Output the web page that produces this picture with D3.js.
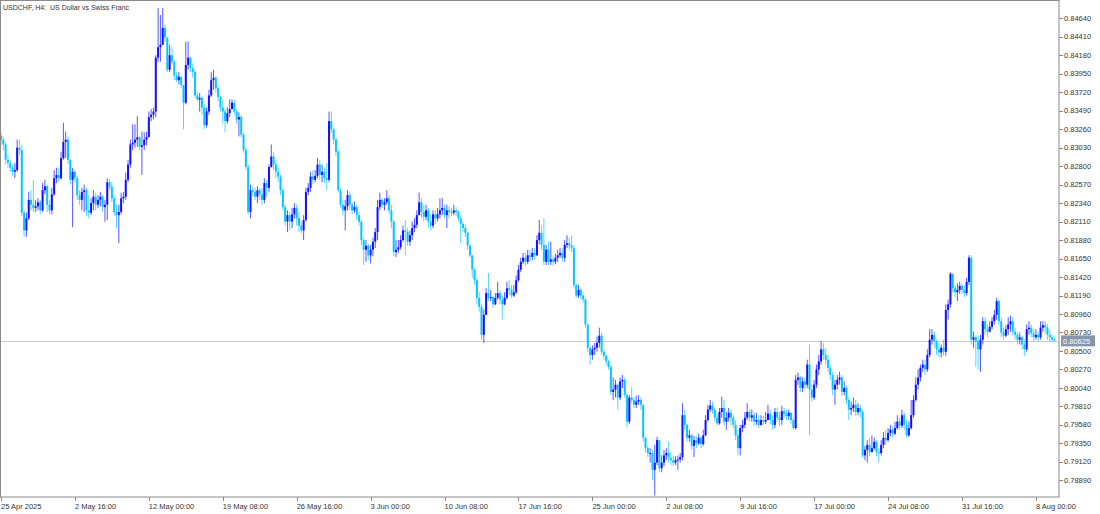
<!DOCTYPE html>
<html><head><meta charset="utf-8">
<script src="https://cdn.jsdelivr.net/npm/d3@7"></script>
<style>body{margin:0;background:#fff;} svg{display:block;font-family:"Liberation Sans",Arial,sans-serif;}</style>
</head><body><svg id="c" width="1100" height="514"></svg>
<script>
const title = "USDCHF, H4:  US Dollar vs Swiss Franc";
const firstOpen = 0.8318;
const closes = [
0.8313,0.8307,0.8288,0.8284,0.8278,0.8273,0.8275,0.8303,0.8300,0.8222,
0.8200,0.8215,0.8238,0.8232,0.8228,0.8230,0.8235,0.8225,0.8250,0.8255,
0.8232,0.8225,0.8245,0.8265,0.8269,0.8265,0.8290,0.8310,0.8313,0.8288,
0.8263,0.8273,0.8265,0.8244,0.8238,0.8248,0.8250,0.8225,0.8222,0.8234,
0.8242,0.8232,0.8238,0.8242,0.8229,0.8232,0.8260,0.8254,0.8240,0.8223,
0.8219,0.8223,0.8240,0.8242,0.8263,0.8282,0.8307,0.8309,0.8313,0.8316,
0.8304,0.8306,0.8313,0.8316,0.8341,0.8344,0.8348,0.8415,0.8428,0.8431,
0.8452,0.8440,0.8400,0.8418,0.8410,0.8393,0.8387,0.8391,0.8381,0.8359,
0.8406,0.8415,0.8402,0.8397,0.8368,0.8363,0.8365,0.8353,0.8331,0.8348,
0.8368,0.8387,0.8390,0.8377,0.8366,0.8353,0.8348,0.8336,0.8346,0.8351,
0.8359,0.8348,0.8338,0.8341,0.8319,0.8300,0.8279,0.8223,0.8250,0.8248,
0.8242,0.8250,0.8245,0.8238,0.8259,0.8253,0.8279,0.8292,0.8282,0.8273,
0.8267,0.8250,0.8229,0.8211,0.8219,0.8211,0.8220,0.8228,0.8215,0.8206,
0.8200,0.8213,0.8248,0.8253,0.8267,0.8263,0.8268,0.8282,0.8269,0.8273,
0.8265,0.8263,0.8336,0.8326,0.8313,0.8298,0.8250,0.8232,0.8225,0.8230,
0.8244,0.8232,0.8225,0.8229,0.8219,0.8211,0.8188,0.8176,0.8181,0.8169,
0.8176,0.8186,0.8198,0.8229,0.8238,0.8232,0.8235,0.8240,0.8225,0.8211,
0.8173,0.8176,0.8179,0.8188,0.8200,0.8198,0.8186,0.8194,0.8203,0.8207,
0.8219,0.8235,0.8223,0.8217,0.8225,0.8211,0.8206,0.8220,0.8215,0.8220,
0.8225,0.8228,0.8219,0.8225,0.8223,0.8222,0.8225,0.8223,0.8215,0.8208,
0.8203,0.8197,0.8181,0.8169,0.8151,0.8138,0.8116,0.8105,0.8070,0.8095,
0.8122,0.8116,0.8117,0.8108,0.8116,0.8122,0.8114,0.8108,0.8116,0.8128,
0.8126,0.8119,0.8123,0.8138,0.8151,0.8161,0.8166,0.8161,0.8169,0.8167,
0.8172,0.8169,0.8188,0.8197,0.8182,0.8161,0.8176,0.8161,0.8164,0.8161,
0.8166,0.8169,0.8172,0.8166,0.8182,0.8184,0.8181,0.8178,0.8132,0.8119,
0.8126,0.8119,0.8114,0.8083,0.8054,0.8045,0.8052,0.8054,0.8060,0.8069,
0.8049,0.8044,0.8037,0.8030,0.7999,0.8002,0.8008,0.7992,0.8012,0.8014,
0.7995,0.7962,0.7992,0.7989,0.7983,0.7987,0.7989,0.7983,0.7942,0.7929,
0.7923,0.7923,0.7902,0.7911,0.7939,0.7904,0.7911,0.7920,0.7923,0.7917,
0.7914,0.7911,0.7914,0.7915,0.7918,0.7970,0.7958,0.7942,0.7945,0.7932,
0.7939,0.7935,0.7942,0.7934,0.7945,0.7964,0.7977,0.7982,0.7977,0.7967,
0.7960,0.7974,0.7979,0.7962,0.7967,0.7973,0.7967,0.7958,0.7945,0.7929,
0.7954,0.7958,0.7967,0.7974,0.7967,0.7970,0.7962,0.7964,0.7958,0.7964,
0.7962,0.7964,0.7972,0.7964,0.7958,0.7974,0.7967,0.7964,0.7975,0.7972,
0.7969,0.7973,0.7964,0.7954,0.8014,0.8017,0.8004,0.8012,0.8008,0.8033,
0.8002,0.7992,0.8008,0.8027,0.8037,0.8052,0.8045,0.8039,0.8029,0.8020,
0.8002,0.8008,0.8014,0.8017,0.7999,0.8004,0.7989,0.7977,0.7979,0.7983,
0.7974,0.7979,0.7974,0.7920,0.7927,0.7933,0.7924,0.7929,0.7937,0.7924,
0.7923,0.7933,0.7942,0.7939,0.7948,0.7952,0.7947,0.7954,0.7962,0.7957,
0.7970,0.7958,0.7945,0.7954,0.7970,0.7989,0.8008,0.8017,0.8029,0.8033,
0.8027,0.8045,0.8064,0.8070,0.8062,0.8052,0.8048,0.8054,0.8049,0.8101,
0.8108,0.8146,0.8128,0.8123,0.8126,0.8131,0.8126,0.8122,0.8136,0.8166,
0.8064,0.8067,0.8062,0.8052,0.8064,0.8087,0.8077,0.8074,0.8080,0.8087,
0.8095,0.8112,0.8087,0.8073,0.8069,0.8077,0.8083,0.8087,0.8074,0.8070,
0.8064,0.8067,0.8058,0.8052,0.8077,0.8079,0.8072,0.8067,0.8070,0.8067,
0.8079,0.8082,0.8079,0.8070,0.8067,0.8064,0.80625];
const highs = [
0.8322,0.8317,0.8310,0.8294,0.8288,0.8282,0.8284,0.8313,0.8313,0.8307,
0.8225,0.8222,0.8248,0.8250,0.8263,0.8238,0.8240,0.8238,0.8259,0.8263,
0.8257,0.8238,0.8253,0.8275,0.8278,0.8278,0.8298,0.8334,0.8323,0.8317,
0.8288,0.8278,0.8275,0.8268,0.8250,0.8253,0.8257,0.8253,0.8244,0.8240,
0.8250,0.8247,0.8244,0.8248,0.8244,0.8238,0.8265,0.8264,0.8260,0.8244,
0.8232,0.8232,0.8247,0.8248,0.8272,0.8288,0.8313,0.8332,0.8332,0.8342,
0.8317,0.8323,0.8322,0.8323,0.8348,0.8351,0.8353,0.8418,0.8477,0.8468,
0.8477,0.8456,0.8437,0.8431,0.8428,0.8412,0.8397,0.8397,0.8392,0.8381,
0.8435,0.8435,0.8416,0.8408,0.8400,0.8372,0.8371,0.8367,0.8357,0.8353,
0.8375,0.8397,0.8400,0.8392,0.8380,0.8368,0.8363,0.8351,0.8353,0.8363,
0.8363,0.8363,0.8351,0.8347,0.8344,0.8322,0.8303,0.8282,0.8257,0.8255,
0.8253,0.8255,0.8253,0.8253,0.8265,0.8263,0.8282,0.8307,0.8298,0.8288,
0.8278,0.8269,0.8253,0.8232,0.8225,0.8223,0.8228,0.8234,0.8232,0.8223,
0.8211,0.8219,0.8253,0.8259,0.8273,0.8275,0.8275,0.8290,0.8288,0.8282,
0.8278,0.8284,0.8348,0.8348,0.8328,0.8316,0.8300,0.8253,0.8238,0.8238,
0.8250,0.8248,0.8234,0.8236,0.8232,0.8223,0.8213,0.8191,0.8188,0.8183,
0.8182,0.8191,0.8203,0.8238,0.8247,0.8240,0.8240,0.8250,0.8244,0.8232,
0.8213,0.8188,0.8188,0.8194,0.8206,0.8213,0.8203,0.8200,0.8211,0.8215,
0.8225,0.8247,0.8240,0.8232,0.8232,0.8228,0.8220,0.8225,0.8225,0.8228,
0.8240,0.8240,0.8232,0.8232,0.8230,0.8228,0.8232,0.8229,0.8225,0.8219,
0.8211,0.8207,0.8198,0.8182,0.8169,0.8153,0.8141,0.8123,0.8108,0.8102,
0.8128,0.8147,0.8126,0.8119,0.8122,0.8136,0.8126,0.8119,0.8123,0.8136,
0.8138,0.8132,0.8132,0.8144,0.8157,0.8166,0.8172,0.8172,0.8176,0.8176,
0.8178,0.8178,0.8194,0.8213,0.8206,0.8215,0.8182,0.8186,0.8186,0.8169,
0.8171,0.8176,0.8178,0.8178,0.8188,0.8194,0.8191,0.8194,0.8182,0.8134,
0.8132,0.8128,0.8123,0.8116,0.8083,0.8055,0.8057,0.8060,0.8068,0.8079,
0.8073,0.8052,0.8045,0.8039,0.8033,0.8017,0.8014,0.8010,0.8017,0.8020,
0.8017,0.7998,0.7995,0.8005,0.7992,0.7994,0.7995,0.7992,0.7983,0.7943,
0.7933,0.7929,0.7927,0.7933,0.7943,0.7939,0.7920,0.7927,0.7929,0.7937,
0.7924,0.7920,0.7919,0.7920,0.7923,0.7985,0.7977,0.7959,0.7952,0.7947,
0.7944,0.7944,0.7947,0.7944,0.7952,0.7970,0.7983,0.7989,0.7987,0.7979,
0.7972,0.7979,0.7993,0.7989,0.7974,0.7979,0.7977,0.7970,0.7964,0.7952,
0.7958,0.7964,0.7974,0.7985,0.7977,0.7977,0.7974,0.7973,0.7970,0.7970,
0.7969,0.7974,0.7983,0.7977,0.7970,0.7979,0.7979,0.7974,0.7982,0.7979,
0.7977,0.7977,0.7974,0.7967,0.8020,0.8023,0.8019,0.8017,0.8017,0.8039,
0.8058,0.8008,0.8014,0.8033,0.8045,0.8062,0.8060,0.8054,0.8045,0.8033,
0.8024,0.8014,0.8020,0.8024,0.8020,0.8012,0.8007,0.7993,0.7987,0.7992,
0.7989,0.7985,0.7983,0.7977,0.7932,0.7939,0.7942,0.7945,0.7942,0.7939,
0.7929,0.7939,0.7949,0.7952,0.7954,0.7958,0.7957,0.7962,0.7970,0.7967,
0.7977,0.7973,0.7964,0.7962,0.7989,0.7995,0.8017,0.8027,0.8033,0.8039,
0.8039,0.8052,0.8077,0.8077,0.8074,0.8064,0.8060,0.8058,0.8064,0.8108,
0.8114,0.8148,0.8144,0.8132,0.8134,0.8136,0.8134,0.8132,0.8141,0.8169,
0.8169,0.8074,0.8070,0.8069,0.8070,0.8092,0.8092,0.8083,0.8087,0.8092,
0.8101,0.8116,0.8114,0.8092,0.8079,0.8082,0.8092,0.8094,0.8092,0.8079,
0.8073,0.8073,0.8069,0.8064,0.8083,0.8087,0.8083,0.8077,0.8077,0.8074,
0.8087,0.8087,0.8087,0.8083,0.8077,0.8070,0.8067];
const lows = [
0.8306,0.8300,0.8282,0.8278,0.8273,0.8268,0.8265,0.8273,0.8294,0.8218,
0.8192,0.8192,0.8213,0.8225,0.8223,0.8223,0.8225,0.8220,0.8223,0.8245,
0.8223,0.8220,0.8220,0.8243,0.8259,0.8260,0.8263,0.8288,0.8290,0.8283,
0.8257,0.8204,0.8260,0.8238,0.8232,0.8225,0.8223,0.8218,0.8215,0.8219,
0.8225,0.8225,0.8228,0.8230,0.8223,0.8211,0.8213,0.8250,0.8235,0.8218,
0.8203,0.8184,0.8220,0.8234,0.8238,0.8260,0.8278,0.8300,0.8303,0.8304,
0.8300,0.8269,0.8300,0.8306,0.8332,0.8336,0.8338,0.8341,0.8410,0.8410,
0.8431,0.8435,0.8397,0.8397,0.8407,0.8387,0.8385,0.8382,0.8377,0.8326,
0.8357,0.8400,0.8397,0.8390,0.8365,0.8361,0.8348,0.8344,0.8326,0.8328,
0.8344,0.8366,0.8375,0.8372,0.8361,0.8348,0.8333,0.8322,0.8333,0.8341,
0.8351,0.8344,0.8333,0.8317,0.8316,0.8297,0.8275,0.8220,0.8215,0.8243,
0.8238,0.8234,0.8238,0.8232,0.8234,0.8242,0.8248,0.8278,0.8275,0.8265,
0.8260,0.8244,0.8225,0.8206,0.8198,0.8200,0.8203,0.8215,0.8206,0.8198,
0.8196,0.8188,0.8211,0.8244,0.8248,0.8258,0.8260,0.8265,0.8263,0.8260,
0.8259,0.8250,0.8260,0.8321,0.8307,0.8293,0.8247,0.8228,0.8219,0.8200,
0.8225,0.8225,0.8220,0.8222,0.8213,0.8206,0.8182,0.8157,0.8161,0.8163,
0.8159,0.8168,0.8178,0.8188,0.8225,0.8228,0.8225,0.8232,0.8220,0.8203,
0.8168,0.8167,0.8172,0.8176,0.8186,0.8169,0.8181,0.8181,0.8188,0.8198,
0.8203,0.8219,0.8215,0.8211,0.8213,0.8203,0.8200,0.8203,0.8208,0.8211,
0.8215,0.8219,0.8215,0.8203,0.8215,0.8218,0.8219,0.8218,0.8211,0.8184,
0.8198,0.8192,0.8176,0.8166,0.8141,0.8132,0.8108,0.8099,0.8064,0.8060,
0.8095,0.8112,0.8112,0.8104,0.8107,0.8114,0.8108,0.8089,0.8107,0.8114,
0.8119,0.8116,0.8117,0.8121,0.8136,0.8148,0.8158,0.8156,0.8158,0.8161,
0.8163,0.8163,0.8168,0.8183,0.8176,0.8157,0.8157,0.8157,0.8157,0.8156,
0.8158,0.8161,0.8166,0.8161,0.8161,0.8178,0.8176,0.8173,0.8128,0.8116,
0.8116,0.8114,0.8110,0.8079,0.8049,0.8033,0.8039,0.8045,0.8049,0.8054,
0.8045,0.8039,0.8032,0.8027,0.7995,0.7989,0.7992,0.7977,0.7989,0.8004,
0.7992,0.7955,0.7959,0.7985,0.7979,0.7979,0.7983,0.7977,0.7937,0.7924,
0.7918,0.7911,0.7889,0.7870,0.7908,0.7899,0.7899,0.7907,0.7914,0.7911,
0.7908,0.7907,0.7908,0.7902,0.7911,0.7914,0.7952,0.7937,0.7937,0.7927,
0.7918,0.7929,0.7933,0.7929,0.7932,0.7944,0.7962,0.7974,0.7972,0.7962,
0.7957,0.7958,0.7967,0.7957,0.7952,0.7962,0.7958,0.7954,0.7939,0.7920,
0.7920,0.7949,0.7954,0.7964,0.7962,0.7962,0.7957,0.7958,0.7954,0.7957,
0.7958,0.7959,0.7964,0.7959,0.7952,0.7954,0.7962,0.7957,0.7958,0.7967,
0.7964,0.7964,0.7959,0.7952,0.7952,0.8008,0.7999,0.7999,0.8002,0.8004,
0.7945,0.7987,0.7989,0.8004,0.8020,0.8033,0.8039,0.8033,0.8024,0.8014,
0.7995,0.7983,0.8002,0.8008,0.7994,0.7995,0.7984,0.7964,0.7970,0.7974,
0.7969,0.7970,0.7967,0.7917,0.7914,0.7911,0.7919,0.7924,0.7927,0.7919,
0.7911,0.7920,0.7929,0.7933,0.7937,0.7944,0.7942,0.7945,0.7952,0.7952,
0.7954,0.7952,0.7942,0.7943,0.7952,0.7967,0.7987,0.8002,0.8012,0.8024,
0.8020,0.8024,0.8042,0.8058,0.8054,0.8045,0.8042,0.8042,0.8044,0.8044,
0.8089,0.8104,0.8123,0.8117,0.8112,0.8121,0.8121,0.8117,0.8119,0.8132,
0.8058,0.8054,0.8030,0.8027,0.8024,0.8058,0.8070,0.8067,0.8073,0.8077,
0.8083,0.8089,0.8082,0.8067,0.8064,0.8067,0.8070,0.8074,0.8069,0.8064,
0.8058,0.8058,0.8052,0.8044,0.8049,0.8070,0.8067,0.8062,0.8064,0.8062,
0.8064,0.8074,0.8072,0.8064,0.8062,0.8062,0.8062];
const priceTicks = [0.84640,0.84410,0.84180,0.83950,0.83720,0.83490,0.83260,0.83030,0.82800,0.82570,0.82340,0.82110,0.81880,0.81650,0.81420,0.81190,0.80960,0.80730,0.80500,0.80270,0.80040,0.79810,0.79580,0.79350,0.79120,0.78890];
const dateLabels = ["25 Apr 2025","2 May 16:00","12 May 00:00","19 May 08:00","26 May 16:00","3 Jun 00:00","10 Jun 08:00","17 Jun 16:00","25 Jun 00:00","2 Jul 08:00","9 Jul 16:00","17 Jul 00:00","24 Jul 08:00","31 Jul 16:00","8 Aug 00:00"];
const dateLabelBars = [0,32,64,96,128,160,192,224,256,288,320,352,384,416,448];
const lastPrice = 0.80625;

const svg = d3.select("#c");
const W = 1100, H = 514;
const plotRight = 1059, plotBottom = 497;
const n = closes.length;
const x = d3.scaleLinear().domain([0, n - 1]).range([1, 1054.4]);
const y = d3.scaleLinear().domain([0.78890, 0.84640]).range([480.3, 18.3]);
const bull = "#1010ff", bear = "#08c4ff";

const bars = closes.map((c, i) => {
  const o = i === 0 ? firstOpen : closes[i - 1];
  return {i, o, c, h: Math.max(highs[i], o, c), l: Math.min(lows[i], o, c)};
});

svg.append("rect").attr("x",0).attr("y",0).attr("width",W).attr("height",H).attr("fill","#fff");

svg.append("clipPath").attr("id","clip").append("rect")
  .attr("x",0).attr("y",0).attr("width",plotRight).attr("height",plotBottom);

// current price line
svg.append("line").attr("x1",0).attr("x2",plotRight)
  .attr("y1",Math.round(y(lastPrice))+0.5).attr("y2",Math.round(y(lastPrice))+0.5)
  .attr("stroke","#c8ccd0").attr("stroke-width",1);

const g = svg.append("g").attr("clip-path","url(#clip)");
g.selectAll("rect.wick").data(bars).join("rect").attr("class","wick")
  .attr("x", d => x(d.i) - 0.5).attr("width", 1)
  .attr("y", d => y(d.h)).attr("height", d => Math.max(1, y(d.l) - y(d.h)))
  .attr("fill", d => d.c >= d.o ? bull : bear).attr("opacity",0.7);
g.selectAll("rect.body").data(bars).join("rect").attr("class","body")
  .attr("x", d => x(d.i) - 1).attr("width", 2)
  .attr("y", d => y(Math.max(d.o, d.c))).attr("height", d => Math.max(1, Math.abs(y(d.o) - y(d.c))))
  .attr("fill", d => d.c >= d.o ? bull : bear);

// frame
svg.append("rect").attr("x",0.5).attr("y",0.5).attr("width",plotRight-0.5).attr("height",plotBottom-0.5)
  .attr("fill","none").attr("stroke","#8a8a8a").attr("stroke-width",1);

// price axis
const ya = svg.append("g");
ya.selectAll("line").data(priceTicks).join("line")
  .attr("x1",plotRight).attr("x2",plotRight+4)
  .attr("y1",d=>Math.round(y(d))+0.5).attr("y2",d=>Math.round(y(d))+0.5)
  .attr("stroke","#8a8a8a");
ya.selectAll("text").data(priceTicks).join("text")
  .attr("x",plotRight+5).attr("y",d=>y(d)).attr("dy","0.35em")
  .attr("font-size","7.5px").attr("fill","#333")
  .text(d=>d3.format(".5f")(d));

// last price box
const ly = y(lastPrice);
svg.append("rect").attr("x",plotRight+2).attr("y",ly-5.5).attr("width",34).attr("height",11).attr("fill","#8796ad");
svg.append("text").attr("x",plotRight+4).attr("y",ly).attr("dy","0.35em")
  .attr("font-size","7.5px").attr("fill","#fff").text(d3.format(".5f")(lastPrice));

// date axis
const xa = svg.append("g");
xa.selectAll("line").data(dateLabelBars).join("line")
  .attr("x1",d=>Math.round(x(d))+0.5).attr("x2",d=>Math.round(x(d))+0.5)
  .attr("y1",plotBottom).attr("y2",plotBottom+4).attr("stroke","#8a8a8a");
xa.selectAll("text").data(dateLabels).join("text")
  .attr("x",(d,k)=>x(dateLabelBars[k])).attr("y",509)
  .attr("font-size","7.5px").attr("fill","#333").text(d=>d);

// title
svg.append("text").attr("x",3).attr("y",10).attr("font-size","7px").attr("fill","#333")
  .style("white-space","pre").text(title);
</script></body></html>
